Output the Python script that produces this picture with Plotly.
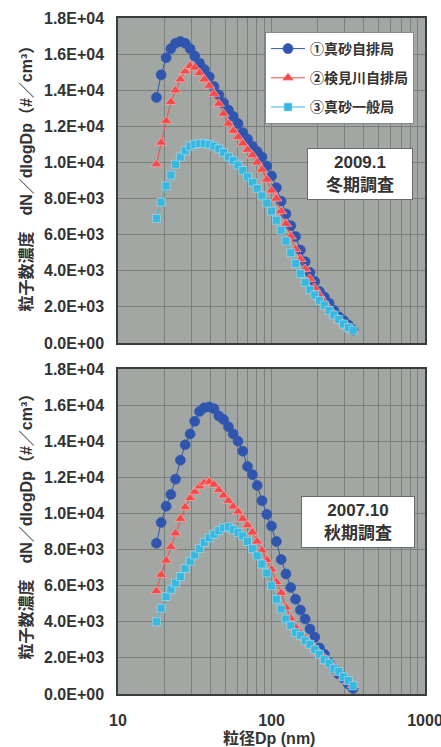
import plotly.graph_objects as go

# ---- data -------------------------------------------------------------
dp_nm = [17.8, 19.1, 20.6, 22.1, 23.7, 25.5, 27.4, 29.5, 31.6, 34.0,
         36.5, 39.3, 42.2, 45.4, 48.7, 52.4, 56.3, 60.5, 65.0, 69.8,
         75.1, 80.7, 86.7, 93.2, 100.1, 107.6, 115.6, 124.2, 133.5, 143.5,
         154.2, 165.7, 178.1, 191.3, 205.6, 220.9, 237.4, 255.1, 274.2, 294.6,
         316.6, 340.2]

station_names = ["①真砂自排局", "②検見川自排局", "③真砂一般局"]

# 2009.1 winter survey
winter_masago_road = [13600, 14850, 15800, 16300, 16600, 16700, 16600, 16300, 15900, 15500,
                      15150, 14750, 14200, 13750, 13300, 12900, 12550, 12150, 11650, 11300,
                      10900, 10600, 10300, 9800, 9250, 8600, 7850, 7150, 6500, 5900,
                      5150, 4500, 3900, 3400, 2850, 2550, 2200, 1800, 1450, 1250, 1000, 720]
winter_kemigawa_road = [9900, 11100, 12300, 13350, 14000, 14600, 15050, 15350, 15250, 14950,
                        14600, 14250, 13800, 13250, 12700, 12150, 11750, 11400, 11050, 10700,
                        10400, 10000, 9600, 9050, 8450, 8000, 7300, 6600, 5900, 5200,
                        4650, 4100, 3550, 3050, 2650, 2250, 1900, 1600, 1300, 1050, 880, 700]
winter_masago_general = [6900, 7800, 8700, 9300, 9900, 10300, 10650, 10900, 11000, 11050,
                         11050, 11000, 10900, 10750, 10550, 10300, 10100, 9850, 9550, 9200,
                         8900, 8550, 8150, 7750, 7300, 6800, 6250, 5650, 5000, 4400,
                         3850, 3350, 2950, 2650, 2350, 2100, 1800, 1550, 1300, 1050, 850, 700]

# 2007.10 autumn survey
autumn_masago_road = [8350, 9500, 10400, 11050, 11900, 12950, 13800, 14400, 15100, 15650,
                      15850, 15900, 15800, 15400, 15200, 14800, 14400, 14000, 13450, 12600,
                      12150, 11550, 10700, 9950, 9300, 8450, 7450, 6650, 5900, 5250,
                      4650, 4150, 3600, 3150, 2550, 2200, 1750, 1400, 1100, 870, 550, 300]
autumn_kemigawa_road = [5700, 6600, 7400, 8150, 8900, 9700, 10350, 10850, 11200, 11500,
                        11700, 11750, 11600, 11300, 11000, 10700, 10380, 10100, 9700, 9350,
                        8950, 8450, 7950, 7420, 6900, 6200, 5600, 4800, 4200, 3700,
                        3400, 3100, 2800, 2500, 2250, 2000, 1750, 1450, 1200, 950, 700, 500]
autumn_masago_general = [4000, 4750, 5400, 5800, 6150, 6500, 6950, 7350, 7700, 8050,
                         8400, 8650, 8850, 9050, 9200, 9250, 9100, 8950, 8750, 8450,
                         8050, 7650, 7200, 6700, 6000, 5250, 4700, 4150, 3800, 3400,
                         3250, 2950, 2750, 2450, 2200, 1900, 1700, 1400, 1250, 950, 750, 450]

y_tick_vals = [0, 2000, 4000, 6000, 8000, 10000, 12000, 14000, 16000, 18000]
y_tick_text = ["0.0E+00", "2.0E+03", "4.0E+03", "6.0E+03", "8.0E+03",
               "1.0E+04", "1.2E+04", "1.4E+04", "1.6E+04", "1.8E+04"]
x_tick_vals = [10, 100, 1000]
x_tick_text = ["10", "100", "1000"]
x_minor_vals = [20, 30, 40, 50, 60, 70, 80, 90, 200, 300, 400, 500, 600, 700, 800, 900]

panel_labels = ["2009.1<br>冬期調査", "2007.10<br>秋期調査"]
y_title = "粒子数濃度　dN／dlogDp（#／cm³）"
x_title = "粒径Dp (nm)"

# ---- style ------------------------------------------------------------
W, H = 441, 747
FONT = "Liberation Sans, Arial, Noto Sans CJK JP, sans-serif"
colors = ["#2f55ae", "#f44a4a", "#38b7df"]
symbols = ["circle", "triangle-up", "square"]
msizes = [10, 10, 8]
medge = ["#2f55ae", "#ffb8b8", "#a8e2f4"]

x_dom = [118 / W, 425 / W]
top_dom = [1 - 343 / H, 1 - 18 / H]
bot_dom = [1 - 694 / H, 1 - 369 / H]

fig = go.Figure()

panels = [
    ("x", "y", [winter_masago_road, winter_kemigawa_road, winter_masago_general], True),
    ("x2", "y2", [autumn_masago_road, autumn_kemigawa_road, autumn_masago_general], False),
]
for xa, ya, series, show in panels:
    for i, vals in enumerate(series):
        fig.add_trace(go.Scatter(
            x=dp_nm, y=vals, xaxis=xa, yaxis=ya,
            mode="lines+markers", name=station_names[i],
            legendgroup=f"g{i}", showlegend=show,
            line=dict(color=colors[i], width=1),
            marker=dict(symbol=symbols[i], size=msizes[i], color=colors[i],
                        line=dict(color=medge[i], width=0.6)),
        ))

grid = "#7c807c"
common = dict(showline=True, mirror=True, linecolor="#3c3c3c", linewidth=1.5,
              showgrid=True, gridcolor=grid, gridwidth=1, zeroline=False, ticks="")

xcommon = dict(type="log", range=[1, 3], domain=x_dom, tickvals=x_tick_vals,
               ticktext=x_tick_text, ticklabeloverflow="allow",
               minor=dict(tickvals=x_minor_vals, showgrid=True, gridcolor=grid,
                          gridwidth=1, ticks=""),
               tickfont=dict(family=FONT, size=16, color="#333", weight="bold"),
               ticklabelstandoff=11, **common)
ycommon = dict(range=[0, 18000], tickvals=y_tick_vals, ticktext=y_tick_text,
               tickfont=dict(family=FONT, size=16, color="#333", weight="bold"),
               ticklabelstandoff=9, **common)

fig.update_layout(
    template="none",
    width=W, height=H, autosize=False,
    margin=dict(l=0, r=0, t=0, b=0),
    paper_bgcolor="white", plot_bgcolor="#a3a7a3",
    font=dict(family=FONT, color="#333"),
    xaxis=dict(anchor="y", showticklabels=False, **xcommon),
    yaxis=dict(anchor="x", domain=top_dom, **ycommon),
    xaxis2=dict(anchor="y2", showticklabels=True, **xcommon),
    yaxis2=dict(anchor="x2", domain=bot_dom, **ycommon),
    legend=dict(x=265 / W, y=1 - 32 / H, xanchor="left", yanchor="top",
                bgcolor="white", bordercolor="#8a8a8a", borderwidth=1,
                font=dict(family=FONT, size=14, color="#333", weight="bold"),
                tracegroupgap=8, itemwidth=34),
    showlegend=True,
)

ann = []
# panel label boxes
for txt, cx, cy, w in [(panel_labels[0], 360, 173.5, 98), (panel_labels[1], 358, 521.5, 106)]:
    ann.append(dict(text=txt, x=cx / W, y=1 - cy / H, xref="paper", yref="paper",
                    showarrow=False, xanchor="center", yanchor="middle",
                    font=dict(family=FONT, size=17, color="#333", weight="bold"),
                    bgcolor="white", bordercolor="#6a6a6a", borderwidth=1,
                    borderpad=3, width=w, height=44))
# y titles
for cy in [175, 523]:
    ann.append(dict(text=y_title, x=25.5 / W, y=1 - cy / H, xref="paper", yref="paper",
                    showarrow=False, textangle=-90, xanchor="center", yanchor="middle",
                    font=dict(family=FONT, size=16, color="#333", weight="bold")))
# x title
ann.append(dict(text=x_title, x=269 / W, y=1 - 738 / H, xref="paper", yref="paper",
                showarrow=False, xanchor="center", yanchor="middle",
                font=dict(family=FONT, size=16, color="#333", weight="bold")))
fig.update_layout(annotations=ann)

fig.write_html("out.html", config={"displayModeBar": False},
               post_script="document.body.style.margin='0';document.body.style.overflow='hidden';")
